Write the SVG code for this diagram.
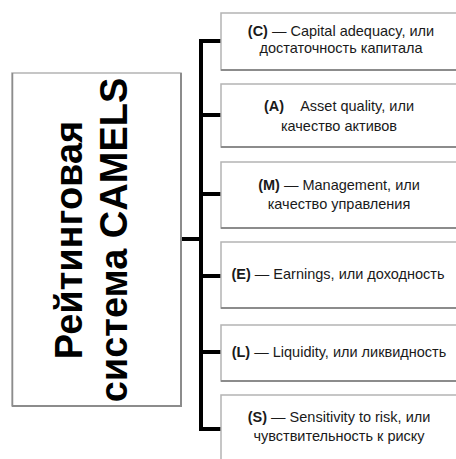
<svg xmlns="http://www.w3.org/2000/svg" width="456" height="459" viewBox="0 0 456 459">
<style>
.box{fill:#fff;stroke:#b4b4b4;stroke-width:1.5}
.shadow{stroke:#8c8c8c;stroke-width:2;fill:none}
.conn{stroke:#000;stroke-width:4;fill:none;stroke-linecap:square}
.t{font-family:"Liberation Sans",Arial,sans-serif;font-size:14.5px;fill:#1a1a1a;text-anchor:middle}
.b{font-weight:bold}
.title{font-family:"Liberation Sans",Arial,sans-serif;font-size:38px;font-weight:bold;fill:#000;text-anchor:middle}
</style>
<rect width="456" height="459" fill="#fff"/>
<g id="connectors">
<line class="conn" x1="201" y1="41" x2="201" y2="429"/>
<line class="conn" x1="201" y1="41" x2="220" y2="41"/>
<line class="conn" x1="201" y1="115" x2="220" y2="115"/>
<line class="conn" x1="201" y1="194" x2="220" y2="194"/>
<line class="conn" x1="201" y1="276" x2="220" y2="276"/>
<line class="conn" x1="201" y1="352" x2="220" y2="352"/>
<line class="conn" x1="201" y1="429" x2="220" y2="429"/>
<line class="conn" x1="183" y1="239" x2="201" y2="239"/>
</g>
<g id="root">
<rect class="box" x="12" y="73" width="169" height="333"/>
<polyline class="shadow" points="181,73 181,406 12,406"/>
<line x1="12.5" y1="73" x2="12.5" y2="406" stroke="#8c8c8c" stroke-width="1.5"/>
<g transform="translate(0,240) rotate(-90)">
<text class="title" x="0" y="82">Рейтинговая</text>
<text class="title" x="0" y="127">система CAMELS</text>
</g>
</g>
<g id="c">
<rect class="box" x="221" y="13" width="245" height="57"/>
<line class="shadow" x1="221" y1="70" x2="456" y2="70"/>
<text class="t" x="341" y="36"><tspan class="b">(C)</tspan> — Capital adequacy, или</text>
<text class="t" x="341" y="53">достаточность капитала</text>
</g>
<g id="a">
<rect class="box" x="221" y="84" width="245" height="63"/>
<line class="shadow" x1="221" y1="147" x2="456" y2="147"/>
<text class="t" x="339" y="111"><tspan class="b">(A)</tspan><tspan dx="16">Asset quality, или</tspan></text>
<text class="t" x="339" y="131">качество активов</text>
</g>
<g id="m">
<rect class="box" x="221" y="162" width="245" height="66"/>
<line class="shadow" x1="221" y1="228" x2="456" y2="228"/>
<text class="t" x="339" y="190"><tspan class="b">(M)</tspan> — Management, или</text>
<text class="t" x="339" y="209">качество управления</text>
</g>
<g id="e">
<rect class="box" x="221" y="242" width="245" height="66"/>
<line class="shadow" x1="221" y1="308" x2="456" y2="308"/>
<text class="t" x="338" y="279"><tspan class="b">(E)</tspan> — Earnings, или доходность</text>
</g>
<g id="l">
<rect class="box" x="221" y="325" width="245" height="56"/>
<line class="shadow" x1="221" y1="381" x2="456" y2="381"/>
<text class="t" x="339" y="357"><tspan class="b">(L)</tspan> — Liquidity, или ликвидность</text>
</g>
<g id="s">
<rect class="box" x="221" y="395" width="245" height="80"/>
<text class="t" x="339" y="422"><tspan class="b">(S)</tspan> — Sensitivity to risk, или</text>
<text class="t" x="339" y="441">чувствительность к риску</text>
</g>
</svg>
